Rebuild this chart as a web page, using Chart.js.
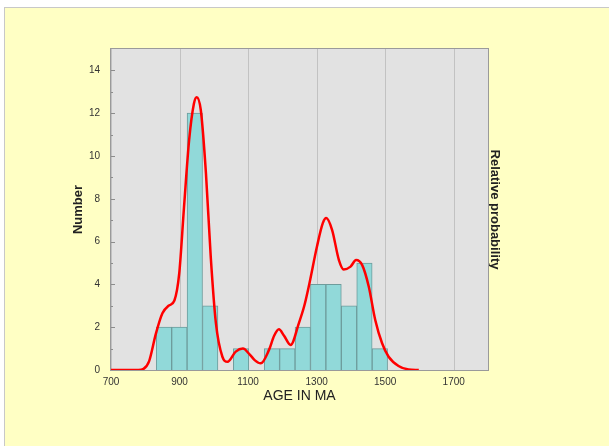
<!DOCTYPE html>
<html>
<head>
<meta charset="utf-8">
<script src="https://cdn.jsdelivr.net/npm/chart.js@4.4.0/dist/chart.umd.min.js"></script>
<style>
  html, body { margin: 0; padding: 0; background: #fff; }
  #frame {
    position: absolute; left: 4px; top: 7px; width: 605px; height: 439px;
    background: #ffffc4; border-left: 1px solid #c8c8c8; border-top: 1px solid #c8c8c8;
    box-sizing: border-box;
  }
  #wrap { position: absolute; left: 0; top: 0; width: 609px; height: 446px; }
</style>
</head>
<body>
<div id="frame"></div>
<div id="wrap"><canvas id="ageChart" width="609" height="446"></canvas></div>
<script>
// histogram bins (Ma) and counts
var binStarts = [832, 877, 922, 967, 1012, 1057, 1102, 1147, 1192, 1237, 1282, 1327, 1372, 1417, 1462];
var binEnds   = [877, 922, 967, 1012, 1057, 1102, 1147, 1192, 1237, 1282, 1327, 1372, 1417, 1462, 1507];
var counts    = [2, 2, 12, 3, 0, 1, 0, 1, 1, 2, 4, 4, 3, 5, 1];

// relative probability curve, scaled to the Number axis
var curveAges = [700, 780, 795, 811, 831, 850, 868, 885, 899, 913, 928, 942, 950, 962, 977, 991, 1006, 1025, 1040,
  1064, 1085, 1105, 1120, 1137, 1161, 1176, 1190, 1205, 1224, 1248, 1264, 1277, 1301, 1318, 1328, 1345, 1365,
  1379, 1399, 1415, 1433, 1452, 1471, 1491, 1510, 1539, 1568, 1598];
var curveProb = [0, 0, 0.05, 0.4, 1.7, 2.65, 3.0, 3.25, 4.5, 7.6, 10.75, 12.45, 12.75, 12.15, 9.2, 5.3, 2.2, 0.62, 0.38,
  0.86, 1.0, 0.72, 0.45, 0.31, 0.94, 1.6, 1.9, 1.6, 1.17, 2.18, 3.0, 3.9, 5.77, 6.86, 7.1, 6.55, 5.14,
  4.7, 4.83, 5.14, 4.9, 3.9, 2.34, 1.25, 0.62, 0.19, 0.03, 0];

var xTicks = [700, 900, 1100, 1300, 1500, 1700];
var yTicks = [0, 2, 4, 6, 8, 10, 12, 14];
var yMinor = [1, 3, 5, 7, 9, 11, 13];

var barData = binStarts.map(function(s, i) {
  return { x: (s + binEnds[i]) / 2, y: counts[i] };
});
var curveData = curveAges.map(function(a, i) {
  return { x: a, y: curveProb[i] };
});

var plotArea = {
  id: 'plotArea',
  beforeDatasetsDraw: function(chart) {
    var a = chart.chartArea, c = chart.ctx;
    c.save();
    c.fillStyle = '#e2e2e2';
    c.fillRect(a.left, a.top, a.right - a.left, a.bottom - a.top);
    // vertical grid lines
    c.strokeStyle = '#c2c2c2';
    c.lineWidth = 1;
    xTicks.forEach(function(v) {
      var px = Math.round(chart.scales.x.getPixelForValue(v)) + 0.5;
      c.beginPath(); c.moveTo(px, a.top); c.lineTo(px, a.bottom); c.stroke();
    });
    c.restore();
  },
  afterDraw: function(chart) {
    var a = chart.chartArea, c = chart.ctx, y = chart.scales.y;
    c.save();
    c.strokeStyle = '#8c8c8c';
    c.lineWidth = 1;
    yTicks.concat(yMinor).forEach(function(v) {
      var py = Math.round(y.getPixelForValue(v)) + 0.5;
      c.beginPath(); c.moveTo(a.left, py); c.lineTo(a.left + (v % 2 ? 2 : 4), py); c.stroke();
    });
    c.strokeStyle = '#9a9a9a';
    c.strokeRect(a.left - 0.5, a.top - 0.5, a.right - a.left + 1, a.bottom - a.top + 1);
    c.restore();
  }
};

new Chart(document.getElementById('ageChart'), {
  data: {
    datasets: [
      {
        type: 'line',
        label: 'Relative probability',
        data: curveData,
        borderColor: '#ff0000',
        borderWidth: 2.5,
        pointRadius: 0,
        fill: false,
        cubicInterpolationMode: 'monotone',
        order: 0
      },
      {
        type: 'bar',
        label: 'Number',
        data: barData,
        backgroundColor: '#91d9d9',
        borderColor: '#6e9c9c',
        borderWidth: 1,
        barPercentage: 1,
        categoryPercentage: 1,
        order: 1
      }
    ]
  },
  options: {
    responsive: false,
    animation: false,
    layout: { padding: { left: 67, right: 103, top: 49, bottom: 37 } },
    plugins: { legend: { display: false }, tooltip: { enabled: false } },
    scales: {
      x: {
        type: 'linear',
        offset: false,
        min: 700, max: 1800,
        afterBuildTicks: function(s) { s.ticks = xTicks.map(function(v) { return { value: v }; }); },
        afterFit: function(s) { s.height = 39; },
        grid: { display: false, drawTicks: false },
        border: { display: false },
        ticks: {
          color: '#333', font: { family: 'Liberation Sans', size: 10 }, padding: 6, maxRotation: 0,
          callback: function(v) { return String(v); }
        },
        title: { display: true, text: 'AGE IN MA', color: '#222', font: { family: 'Liberation Sans', size: 14 }, padding: 4 }
      },
      y: {
        type: 'linear',
        min: 0, max: 15,
        afterBuildTicks: function(s) { s.ticks = yTicks.map(function(v) { return { value: v }; }); },
        afterFit: function(s) { s.width = 44; },
        grid: { display: false, drawTicks: false },
        border: { display: false },
        ticks: { color: '#333', font: { family: 'Liberation Sans', size: 10 }, padding: 11 },
        title: { display: true, text: 'Number', color: '#222', font: { family: 'Liberation Sans', size: 13, weight: 'bold' }, padding: 4 }
      },
      y2: {
        type: 'linear',
        position: 'right',
        min: 0, max: 15,
        afterFit: function(s) { s.width = 18; },
        grid: { display: false, drawTicks: false },
        border: { display: false },
        ticks: { display: false },
        title: { display: true, text: 'Relative probability', color: '#222', font: { family: 'Liberation Sans', size: 13, weight: 'bold' }, padding: 4 }
      }
    }
  },
  plugins: [plotArea]
});
</script>
</body>
</html>
